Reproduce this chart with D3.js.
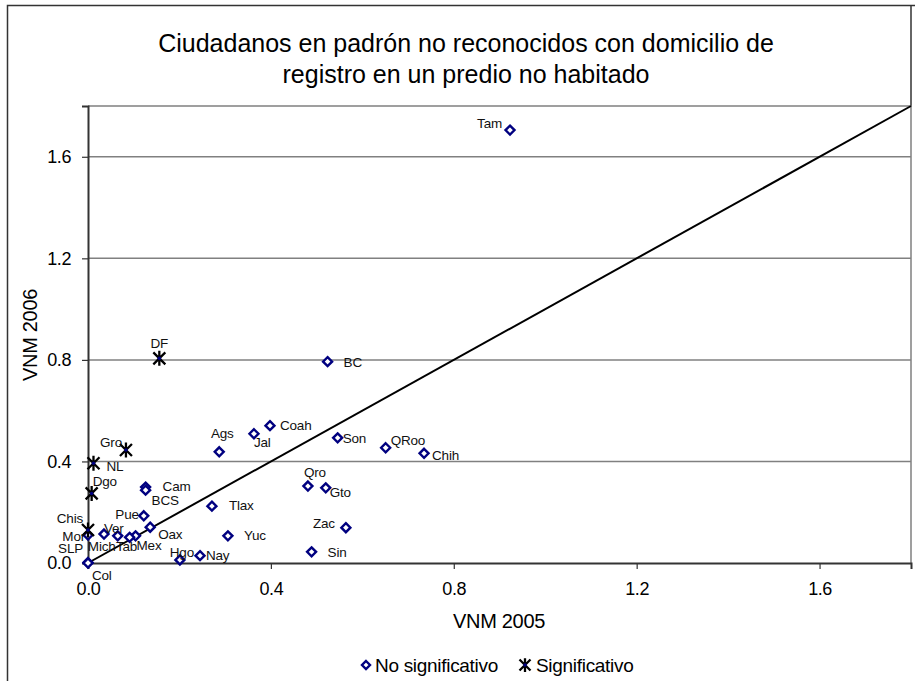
<!DOCTYPE html>
<html lang="es">
<head>
<meta charset="UTF-8">
<title>Ciudadanos en padrón no reconocidos</title>
<script src="https://d3js.org/d3.v7.min.js"></script>
<style>
  body { margin: 0; background: #fff; }
  text { font-family: "Liberation Sans", Arial, sans-serif; }
</style>
</head>
<body>
<div id="chart"></div>
<script>
// data: VNM 2005 (x) vs VNM 2006 (y) by state
var noSigNames = ["Tam","BC","Coah","Jal","Ags","Son","QRoo","Chih","Qro","Gto","Zac","Sin","Tlax","Yuc","Nay","Hgo","Cam","BCS","Pue","Oax","Mex","Tab","Mich","Ver","Mor","SLP","Col"]
var noSigX = [0.923,0.524,0.398,0.363,0.287,0.546,0.651,0.735,0.481,0.520,0.564,0.489,0.271,0.306,0.245,0.201,0.126,0.126,0.122,0.136,0.104,0.091,0.065,0.035,0.000,0.000,0.000]
var noSigY = [1.705,0.793,0.541,0.509,0.438,0.493,0.454,0.432,0.303,0.296,0.139,0.044,0.224,0.107,0.029,0.012,0.299,0.287,0.186,0.141,0.107,0.101,0.107,0.114,0.110,0.002,0.000]

var sigNames = ["DF","Gro","NL","Dgo","Chis"]
var sigX = [0.156,0.083,0.012,0.008,0.000]
var sigY = [0.806,0.445,0.393,0.274,0.130]

var ticks = [0, 0.4, 0.8, 1.2, 1.6]
var legendLabels = ["No significativo", "Significativo"]

// where each label sits relative to its marker [dx, dy, anchor]
var labelPos = {
  Tam:[-8,-2,"end"], BC:[16,5,"start"], Coah:[10,4,"start"], Jal:[0,13,"start"],
  Ags:[3,-14,"middle"], Son:[5,5,"start"], QRoo:[5,-3,"start"], Chih:[8,7,"start"],
  Qro:[7,-9,"middle"], Gto:[4,9,"start"], Zac:[-11,0,"end"], Sin:[16,5,"start"],
  Tlax:[17,4,"start"], Yuc:[16,4,"start"], Nay:[6,4,"start"], Hgo:[2,-3,"middle"],
  Cam:[17,4,"start"], BCS:[6,15,"start"], Pue:[-5,3,"end"], Oax:[8,12,"start"],
  Mex:[1,14,"start"], Tab:[-3,14,"middle"], Mich:[-16,15,"middle"], Ver:[0,-1,"start"],
  Mor:[-3,6,"end"], SLP:[-5,-9,"end"], Col:[4,17,"start"],
  DF:[0,-10,"middle"], Gro:[-4,-3,"end"], NL:[13,8,"start"], Dgo:[1,-7,"start"], Chis:[-5,-7,"end"]
}

var width = 915, height = 681
var svg = d3.select("#chart").append("svg")
  .attr("width", width).attr("height", height)

// chart area border
svg.append("rect")
  .attr("x", 7.5).attr("y", 5.5).attr("width", 930).attr("height", 720)
  .attr("fill", "none").attr("stroke", "#333").attr("stroke-width", 1.5)

var x = d3.scaleLinear().domain([0, 1.8]).range([88, 911])
var y = d3.scaleLinear().domain([0, 1.8]).range([563, 106])

// right edge above the plot area
svg.append("line").attr("x1", 911).attr("x2", 911).attr("y1", 5).attr("y2", y(1.8))
  .attr("stroke", "#333").attr("stroke-width", 1.5)

// title
var title = svg.append("text").attr("text-anchor", "middle")
  .attr("font-size", 25).attr("fill", "#000")
title.append("tspan").attr("x", 466).attr("y", 52).text("Ciudadanos en padrón no reconocidos con domicilio de")
title.append("tspan").attr("x", 466).attr("y", 83).text("registro en un predio no habitado")

// gridlines
svg.append("g").selectAll("line").data(ticks.filter(function(d){ return d > 0 }))
  .enter().append("line")
    .attr("x1", x(0)).attr("x2", x(1.8))
    .attr("y1", function(d){ return y(d) }).attr("y2", function(d){ return y(d) })
    .attr("stroke", "#808080").attr("stroke-width", 1.5)

// plot area border (top, right)
svg.append("path")
  .attr("d", "M" + x(0) + "," + y(1.8) + "H" + x(1.8) + "V" + y(0))
  .attr("fill", "none").attr("stroke", "#808080").attr("stroke-width", 1.5)

// axes
var fmt = d3.format(".1f")
var yAxis = svg.append("g").attr("transform", "translate(" + x(0) + ",0)")
  .call(d3.axisLeft(y).tickValues(ticks).tickFormat(fmt).tickSize(6).tickPadding(11))
var xAxis = svg.append("g").attr("transform", "translate(0," + y(0) + ")")
  .call(d3.axisBottom(x).tickValues(ticks).tickFormat(fmt).tickSize(6).tickPadding(13))
;[xAxis, yAxis].forEach(function(a){
  a.select(".domain").attr("stroke", "#333").attr("stroke-width", 2)
  a.selectAll(".tick line").attr("stroke", "#333").attr("stroke-width", 1.2)
  a.selectAll(".tick text").attr("font-size", 18).attr("fill", "#000")
    .attr("letter-spacing", "-0.4px")
    .style("font-family", "'Liberation Sans', Arial, sans-serif")
})

// axis titles
svg.append("text").attr("x", 499).attr("y", 628).attr("text-anchor", "middle")
  .attr("font-size", 20).attr("letter-spacing", "-0.3px").text("VNM 2005")
svg.append("text").attr("transform", "translate(37,335) rotate(-90)")
  .attr("text-anchor", "middle").attr("font-size", 20).attr("letter-spacing", "-0.3px")
  .text("VNM 2006")

// reference line y = x
svg.append("line")
  .attr("x1", x(0)).attr("y1", y(0)).attr("x2", x(1.8)).attr("y2", y(1.8))
  .attr("stroke", "#000").attr("stroke-width", 2)

var noSig = noSigNames.map(function(n, i){ return {name: n, x: noSigX[i], y: noSigY[i]} })
var sig = sigNames.map(function(n, i){ return {name: n, x: sigX[i], y: sigY[i]} })

function diamond(g, s) {
  g.append("path")
    .attr("d", "M0," + (-s) + "L" + s + ",0L0," + s + "L" + (-s) + ",0Z")
    .attr("fill", "#fff").attr("stroke", "#000080").attr("stroke-width", 2.4)
}
function star(g, s) {
  g.append("path")
    .attr("d", "M" + (-s) + "," + (-s) + "L" + s + "," + s + "M" + s + "," + (-s) + "L" + (-s) + "," + s +
               "M0," + (-s * 1.25) + "V" + (s * 1.25))
    .attr("fill", "none").attr("stroke", "#000").attr("stroke-width", 2.3)
  g.append("circle").attr("r", 1.8).attr("fill", "#000080")
}

svg.append("g").selectAll("g").data(noSig).enter().append("g")
  .attr("transform", function(d){ return "translate(" + x(d.x) + "," + y(d.y) + ")" })
  .each(function(){ diamond(d3.select(this), 4.5) })

svg.append("g").selectAll("g").data(sig).enter().append("g")
  .attr("transform", function(d){ return "translate(" + x(d.x) + "," + y(d.y) + ")" })
  .each(function(){ star(d3.select(this), 6) })

// point labels
svg.append("g").selectAll("text").data(noSig.concat(sig)).enter().append("text")
  .attr("x", function(d){ return x(d.x) + labelPos[d.name][0] })
  .attr("y", function(d){ return y(d.y) + labelPos[d.name][1] })
  .attr("text-anchor", function(d){ return labelPos[d.name][2] })
  .attr("font-size", 13.5).attr("fill", "#111")
  .attr("letter-spacing", "-0.2px")
  .text(function(d){ return d.name })

// legend
var lg = svg.append("g").attr("transform", "translate(0,665)")
var l1 = lg.append("g").attr("transform", "translate(366,0)")
diamond(l1, 4)
lg.append("text").attr("x", 375).attr("y", 6.5).attr("font-size", 19)
  .attr("letter-spacing", "-0.3px").text(legendLabels[0])
var l2 = lg.append("g").attr("transform", "translate(525,0)")
star(l2, 5.5)
lg.append("text").attr("x", 536).attr("y", 6.5).attr("font-size", 19)
  .attr("letter-spacing", "-0.3px").text(legendLabels[1])
</script>
</body>
</html>
